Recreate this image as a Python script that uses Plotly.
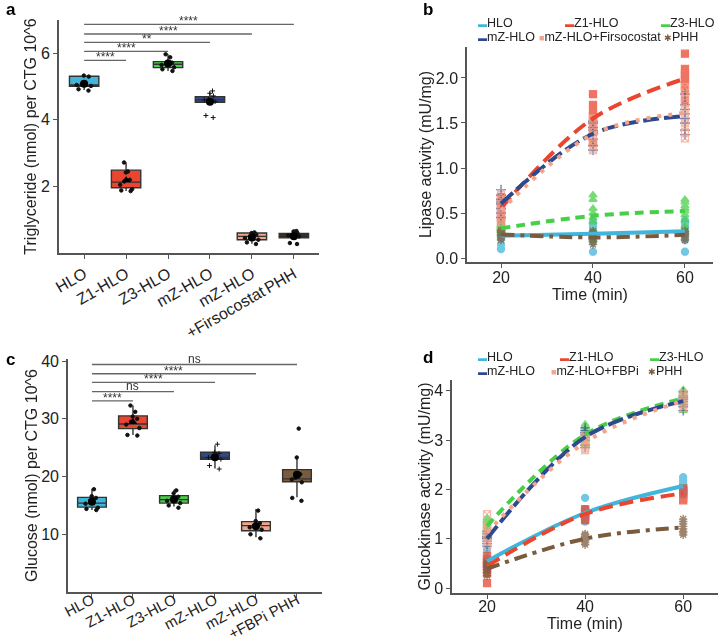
import numpy as np
import plotly.graph_objects as go

FONT = "Liberation Sans, Arial, sans-serif"
W, H = 720, 644

# ---------------- colours ----------------
C_HLO, C_Z1, C_Z3, C_MZ, C_MZF, C_PHH = "#41B6DA", "#E9452F", "#48CF48", "#2F4A8C", "#F3A48C", "#7B5B3E"
C_PHH_DARK = "#33291F"

# ---------------- panel a : triglyceride ----------------
tg_groups = ["HLO", "Z1-HLO", "Z3-HLO", "mZ-HLO", "mZ-HLO+Firsocostat", "PHH"]
tg_ticktext = ["HLO", "Z1-HLO", "Z3-HLO", "mZ-HLO", "mZ-HLO<br>+Firsocostat", "PHH"]
tg_q1 = [5.01, 1.96, 5.57, 4.53, 0.40, 0.46]
tg_median = [5.05, 2.13, 5.67, 4.60, 0.50, 0.53]
tg_q3 = [5.31, 2.49, 5.75, 4.70, 0.60, 0.59]
tg_low = [4.90, 1.86, 5.47, 4.50, 0.28, 0.46]
tg_high = [5.33, 2.72, 5.97, 4.82, 0.63, 0.62]
tg_hlo = [4.88, 4.92, 5.02, 5.05, 5.08, 5.30, 5.33]
tg_z1 = [1.86, 1.88, 1.92, 2.05, 2.15, 2.20, 2.42, 2.45, 2.72]
tg_z3 = [5.47, 5.52, 5.58, 5.65, 5.70, 5.72, 5.75, 5.88, 5.97]
tg_mz = [4.07, 4.13, 4.55, 4.60, 4.62, 4.72, 4.80, 4.87]
tg_mzf = [0.27, 0.32, 0.40, 0.45, 0.50, 0.55, 0.60, 0.62]
tg_phh = [0.27, 0.30, 0.50, 0.53, 0.55, 0.60, 0.65, 0.66]
tg_sig_targets = ["Z1-HLO", "Z3-HLO", "mZ-HLO", "mZ-HLO+Firsocostat", "PHH"]
tg_sig_labels = ["****", "****", "**", "****", "****"]
tg_sig_y = [5.79, 6.06, 6.33, 6.58, 6.87]

# ---------------- panel c : glucose ----------------
gl_groups = ["HLO", "Z1-HLO", "Z3-HLO", "mZ-HLO", "mZ-HLO+FBPi", "PHH"]
gl_ticktext = ["HLO", "Z1-HLO", "Z3-HLO", "mZ-HLO", "mZ-HLO<br>+FBPi", "PHH"]
gl_q1 = [14.7, 28.3, 15.4, 23.0, 10.6, 19.1]
gl_median = [15.4, 29.1, 16.0, 23.3, 11.5, 19.6]
gl_q3 = [16.4, 30.5, 16.7, 24.2, 12.2, 21.2]
gl_low = [14.2, 27.2, 14.8, 21.4, 9.5, 16.4]
gl_high = [17.9, 32.3, 17.7, 25.4, 14.4, 23.4]
gl_hlo = [14.2, 14.4, 14.6, 15.3, 15.8, 16.3, 16.6, 17.8]
gl_z1 = [27.1, 27.2, 28.4, 29.0, 29.5, 30.0, 30.4, 31.2, 32.3]
gl_z3 = [14.6, 15.0, 15.4, 15.8, 16.1, 16.5, 17.1, 17.6]
gl_mz = [21.3, 21.9, 23.0, 23.3, 23.5, 24.0, 24.2, 25.6]
gl_mzf = [9.3, 10.0, 10.8, 11.2, 11.5, 11.9, 12.3, 14.1]
gl_phh = [15.8, 16.3, 19.0, 19.5, 19.8, 20.4, 23.3, 28.3]
gl_sig_targets = ["Z1-HLO", "Z3-HLO", "mZ-HLO", "mZ-HLO+FBPi", "PHH"]
gl_sig_labels = ["****", "ns", "****", "****", "ns"]
gl_sig_y = [33.1, 34.7, 36.3, 37.8, 39.4]

# ---------------- panel b : lipase activity ----------------
times = [20, 40, 60]
lip_hlo = [[0.10, 0.15, 0.22, 0.25, 0.28, 0.30, 0.33, 0.35],
           [0.07, 0.18, 0.25, 0.28, 0.30, 0.33, 0.35, 0.40],
           [0.07, 0.20, 0.25, 0.30, 0.35, 0.38, 0.40, 0.42]]
lip_z1 = [[0.40, 0.45, 0.50, 0.55, 0.60, 0.62, 0.65, 0.68],
          [1.28, 1.40, 1.48, 1.52, 1.58, 1.62, 1.70, 1.82],
          [1.75, 1.85, 1.92, 1.98, 2.02, 2.05, 2.10, 2.27]]
lip_z3 = [[0.27, 0.30, 0.32, 0.33, 0.34, 0.35, 0.36, 0.37],
          [0.20, 0.30, 0.40, 0.45, 0.50, 0.55, 0.65, 0.70],
          [0.35, 0.42, 0.48, 0.52, 0.55, 0.58, 0.62, 0.65]]
lip_mz = [[0.45, 0.50, 0.55, 0.60, 0.62, 0.65, 0.70, 0.76],
          [1.20, 1.25, 1.32, 1.38, 1.42, 1.45, 1.50, 1.52],
          [1.37, 1.42, 1.50, 1.55, 1.60, 1.65, 1.70, 1.82]]
lip_mzf = [[0.35, 0.40, 0.45, 0.50, 0.55, 0.60, 0.65, 0.72],
           [1.20, 1.25, 1.30, 1.35, 1.40, 1.45, 1.50, 1.55],
           [1.33, 1.40, 1.50, 1.60, 1.65, 1.72, 1.80, 1.90]]
lip_phh = [[0.20, 0.22, 0.24, 0.26, 0.28, 0.29, 0.30, 0.31],
           [0.15, 0.18, 0.20, 0.22, 0.24, 0.26, 0.28, 0.30],
           [0.20, 0.22, 0.24, 0.26, 0.27, 0.28, 0.29, 0.30]]

# ---------------- panel d : glucokinase activity ----------------
gk_hlo = [[0.38, 0.45, 0.50, 0.52, 0.55, 0.58, 0.60, 0.78],
          [1.35, 1.40, 1.45, 1.48, 1.52, 1.55, 1.60, 1.83],
          [1.90, 1.95, 2.00, 2.05, 2.10, 2.12, 2.18, 2.25]]
gk_z1 = [[0.10, 0.30, 0.40, 0.45, 0.50, 0.55, 0.60, 0.65],
         [1.38, 1.42, 1.46, 1.50, 1.52, 1.55, 1.58, 1.60],
         [1.78, 1.82, 1.88, 1.92, 1.96, 1.98, 2.00, 2.02]]
gk_z3 = [[1.05, 1.15, 1.20, 1.25, 1.30, 1.35, 1.38, 1.42],
         [2.90, 2.95, 3.00, 3.10, 3.15, 3.20, 3.28, 3.32],
         [3.60, 3.70, 3.78, 3.85, 3.90, 3.95, 3.98, 4.02]]
gk_mz = [[0.85, 0.90, 0.95, 1.00, 1.02, 1.05, 1.10, 1.15],
         [2.85, 2.90, 3.00, 3.05, 3.10, 3.15, 3.20, 3.25],
         [3.60, 3.68, 3.72, 3.78, 3.82, 3.86, 3.90, 3.98]]
gk_mzf = [[0.85, 0.95, 1.00, 1.10, 1.15, 1.20, 1.25, 1.50],
          [2.80, 2.85, 2.90, 2.95, 3.00, 3.05, 3.10, 3.00],
          [3.65, 3.70, 3.75, 3.80, 3.82, 3.85, 3.90, 3.95]]
gk_phh = [[0.25, 0.30, 0.33, 0.38, 0.42, 0.45, 0.48, 0.52],
          [0.88, 0.92, 0.96, 1.00, 1.02, 1.05, 1.08, 1.10],
          [1.08, 1.12, 1.15, 1.20, 1.25, 1.30, 1.35, 1.40]]

fig = go.Figure()

# ---------- box panels ----------
def box_panel(xa, ya, groups, q1, med, q3, lo, hi, pts, fills, sig_targets, sig_labels, sig_y):
    pt_symbols = ["circle", "circle", "circle", "cross-thin-open", "circle", "circle"]
    mean_symbols = ["circle", "triangle-up", "circle", "circle", "circle", "circle"]
    for i, g in enumerate(groups):
        fig.add_trace(go.Box(x=[g], q1=[q1[i]], median=[med[i]], q3=[q3[i]],
                             lowerfence=[lo[i]], upperfence=[hi[i]],
                             fillcolor=fills[i], line=dict(color="#333333", width=1.4),
                             width=0.7, whiskerwidth=0, boxpoints=False,
                             xaxis=xa, yaxis=ya, showlegend=False))
        fig.add_trace(go.Box(x=[g] * len(pts[i]), y=pts[i], boxpoints="all", jitter=0.6, pointpos=0,
                             fillcolor="rgba(0,0,0,0)", line=dict(width=0, color="rgba(0,0,0,0)"),
                             width=0.7, whiskerwidth=0,
                             marker=dict(color="#111111", size=3.5, symbol=pt_symbols[i],
                                         line=dict(color="#111111", width=1)),
                             xaxis=xa, yaxis=ya, showlegend=False))
    fig.add_trace(go.Scatter(x=groups, y=[float(np.mean(p)) for p in pts], mode="markers",
                             marker=dict(color="black", size=8, symbol=mean_symbols),
                             xaxis=xa, yaxis=ya, showlegend=False))
    for tgt, lab, yy in zip(sig_targets, sig_labels, sig_y):
        j = groups.index(tgt)
        fig.add_shape(type="line", x0=0, x1=j, y0=yy, y1=yy, xref=xa, yref=ya,
                      line=dict(color="#666666", width=1.3))
        fig.add_annotation(x=j / 2, y=yy, xref=xa, yref=ya, text=lab, showarrow=False,
                           yanchor="bottom", yshift=-6 if "*" in lab else -3,
                           font=dict(size=12, color="#333333", family=FONT))

box_panel("x", "y", tg_groups, tg_q1, tg_median, tg_q3, tg_low, tg_high,
          [tg_hlo, tg_z1, tg_z3, tg_mz, tg_mzf, tg_phh],
          [C_HLO, C_Z1, C_Z3, C_MZ, C_MZF, C_PHH_DARK],
          tg_sig_targets, tg_sig_labels, tg_sig_y)
box_panel("x3", "y3", gl_groups, gl_q1, gl_median, gl_q3, gl_low, gl_high,
          [gl_hlo, gl_z1, gl_z3, gl_mz, gl_mzf, gl_phh],
          [C_HLO, C_Z1, C_Z3, C_MZ, C_MZF, C_PHH],
          gl_sig_targets, gl_sig_labels, gl_sig_y)

# ---------- time-course panels ----------
series_colors = [C_HLO, C_Z1, C_Z3, C_MZ, C_MZF, C_PHH]
series_symbols = ["circle", "square", "triangle-up", "cross-thin-open", "square-x-open", "asterisk-open"]
series_dash = ["solid", "14px,7px", "9px,6px", "16px,5px", "4px,7px", "13px,6px,4px,6px"]

def time_panel(xa, ya, reps_list):
    for reps, col, sym in zip(reps_list, series_colors, series_symbols):
        xs = np.repeat(times, [len(r) for r in reps])
        ys = np.concatenate([np.array(r, dtype=float) for r in reps])
        fig.add_trace(go.Scatter(x=xs, y=ys, mode="markers", opacity=0.75,
                                 marker=dict(color=col, size=7, symbol=sym, line=dict(color=col, width=1.3)),
                                 xaxis=xa, yaxis=ya, showlegend=False))
    for reps, col, dash in zip(reps_list, series_colors, series_dash):
        fig.add_trace(go.Scatter(x=times, y=[float(np.mean(r)) for r in reps], mode="lines",
                                 line=dict(color=col, width=4, dash=dash, shape="spline", smoothing=1.0),
                                 xaxis=xa, yaxis=ya, showlegend=False))

time_panel("x2", "y2", [lip_hlo, lip_z1, lip_z3, lip_mz, lip_mzf, lip_phh])
time_panel("x4", "y4", [gk_hlo, gk_z1, gk_z3, gk_mz, gk_mzf, gk_phh])

# ---------- axes ----------
ax_common = dict(showline=True, linecolor="#555555", linewidth=1.5, ticks="outside", ticklen=4,
                 tickcolor="#555555", tickwidth=1.3, showgrid=False, zeroline=False,
                 tickfont=dict(size=16, color="#222222", family=FONT), automargin=False)
title_font = dict(size=16, color="#222222", family=FONT)
ax_c = dict(ax_common)
ax_c["tickfont"] = dict(size=15, color="#222222", family=FONT)

fig.update_layout(
    width=W, height=H, margin=dict(l=0, r=0, t=0, b=0),
    paper_bgcolor="white", plot_bgcolor="white", font=dict(family=FONT),
    boxmode="overlay",
    xaxis=dict(domain=[0.0819, 0.4431], anchor="y", type="category", categoryorder="array",
               categoryarray=tg_groups, tickvals=tg_groups, ticktext=tg_ticktext,
               tickangle=-30, range=[-0.6, 5.6], **ax_common),
    yaxis=dict(domain=[0.6071, 0.9689], anchor="x", range=[0, 7], tickvals=[2, 4, 6],
               title=dict(text="Triglyceride (nmol) per CTG 10^6", font=title_font, standoff=0),
               **ax_common),
    xaxis2=dict(domain=[0.6486, 0.9903], anchor="y2", range=[12.6, 66.1], tickvals=times,
                ticklabelstandoff=-4,
                title=dict(text="Time (min)", font=title_font, standoff=0), **ax_common),
    yaxis2=dict(domain=[0.5932, 0.9270], anchor="x2", range=[-0.044, 2.344],
                tickvals=[0, 0.5, 1.0, 1.5, 2.0], tickformat=".1f",
                title=dict(text="Lipase activity (mU/mg)", font=title_font, standoff=0), **ax_common),
    xaxis3=dict(domain=[0.0944, 0.4472], anchor="y3", type="category", categoryorder="array",
                categoryarray=gl_groups, tickvals=gl_groups, ticktext=gl_ticktext,
                tickangle=-28, range=[-0.585, 5.61], ticklabelstandoff=-12, **ax_c),
    yaxis3=dict(domain=[0.0807, 0.4425], anchor="x3", range=[0, 40.35], tickvals=[10, 20, 30, 40],
                title=dict(text="Glucose (nmol) per CTG 10^6", font=title_font, standoff=0), **ax_common),
    xaxis4=dict(domain=[0.6278, 0.9972], anchor="y4", range=[12.86, 67.1], tickvals=times,
                ticklabelstandoff=-6,
                title=dict(text="Time (min)", font=title_font, standoff=0), **ax_common),
    yaxis4=dict(domain=[0.0792, 0.4099], anchor="x4", range=[-0.1, 4.22], tickvals=[0, 1, 2, 3, 4],
                title=dict(text="Glucokinase activity (mU/mg)", font=title_font, standoff=0), **ax_common),
)

# ---------- panel letters ----------
for lab, xp, yp in [("a", 4, 10), ("b", 421, 10), ("c", 4, 360), ("d", 421, 357)]:
    fig.add_annotation(x=xp / W, y=1 - yp / H, xref="paper", yref="paper", text=f"<b>{lab}</b>",
                       showarrow=False, xanchor="left", yanchor="middle",
                       font=dict(size=17, color="black", family=FONT))

# ---------- legends (drawn as text keys) ----------
def legend_item(xp, yp, color, glyph, label):
    fig.add_annotation(x=xp / W, y=1 - yp / H, xref="paper", yref="paper",
                       text=f'<span style="color:{color};font-size:9px">{glyph}</span>{label}',
                       showarrow=False, xanchor="left", yanchor="middle",
                       font=dict(size=12.5, color="#222222", family=FONT))

b_labels = ["HLO", "Z1-HLO", "Z3-HLO", "mZ-HLO", "mZ-HLO+Firsocostat", "PHH"]
d_labels = ["HLO", "Z1-HLO", "Z3-HLO", "mZ-HLO", "mZ-HLO+FBPi", "PHH"]
glyphs = ["▬", "▬", "▬", "▬", "■", "✱"]
b_pos = [(476, 23), (563, 23), (659, 23), (476, 37), (537, 37), (662, 37)]
d_pos = [(476, 357), (558, 357), (648, 357), (476, 371), (549, 371), (646, 371)]
for (xp, yp), col, gl, lab in zip(b_pos, series_colors, glyphs, b_labels):
    legend_item(xp, yp, col, gl, lab)
for (xp, yp), col, gl, lab in zip(d_pos, series_colors, glyphs, d_labels):
    legend_item(xp, yp, col, gl, lab)

fig.write_html("out.html", config={"displayModeBar": False},
               post_script="document.body.style.margin='0px';document.body.style.overflow='hidden';")
